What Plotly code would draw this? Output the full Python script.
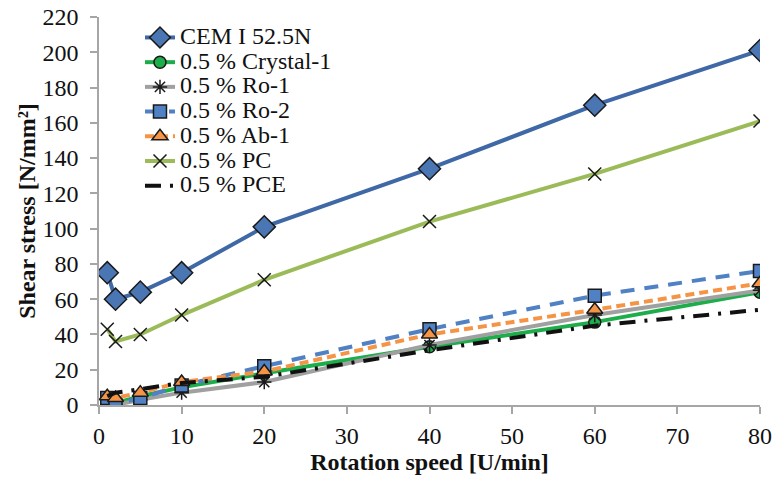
import plotly.graph_objects as go

speed = [1, 2, 5, 10, 20, 40, 60, 80]

cem = [75, 60, 64, 75, 101, 134, 170, 201]
crystal = [3, 1, 5, 10, 18, 33, 47, 64]
ro1 = [3, 0, 3, 7, 13, 34, 51, 65]
ro2 = [4, 0.5, 4, 11, 22, 43, 62, 76]
ab1 = [5, 4, 7, 13, 19, 40, 54, 69]
pc = [43, 36, 40, 51, 71, 104, 131, 161]
pce = [5, 7, 9, 12.5, 16, 31, 45, 54]

names = ["CEM I 52.5N", "0.5 % Crystal-1", "0.5 % Ro-1", "0.5 % Ro-2",
         "0.5 % Ab-1", "0.5 % PC", "0.5 % PCE"]

x_ticks = [0, 10, 20, 30, 40, 50, 60, 70, 80]
y_ticks = list(range(0, 221, 20))

FONT = "Times New Roman, Liberation Serif, serif"
TXT = 24
LEG = 24

fig = go.Figure()

def add(y, name, color, dash, symbol, mfill, msize, mline_color="#1a1a1a", mline_w=1.5):
    fig.add_trace(go.Scatter(
        x=speed, y=y,
        name='<span style="font-size:%dpx">%s</span>' % (LEG, name),
        mode="lines+markers" if symbol else "lines",
        line=dict(color=color, width=4, dash=dash),
        marker=dict(symbol=symbol or "circle", size=msize, color=mfill,
                    line=dict(color=mline_color, width=mline_w)),
    ))

add(cem, names[0], "#3F68A6", "solid", "diamond", "#4A77B4", 17)
add(crystal, names[1], "#1DAE4B", "solid", "circle", "#1DAE4B", 12)
add(ro1, names[2], "#A0A0A0", "solid", "asterisk-open", "#1a1a1a", 12, "#1a1a1a", 1.5)
add(ro2, names[3], "#4F81C4", "14px,10px", "square", "#4F81C4", 13)
add(ab1, names[4], "#F59445", "9px,5px", "triangle-up", "#F59445", 14)
add(pc, names[5], "#9BBB59", "solid", "x-thin-open", "#1a1a1a", 13, "#1a1a1a", 1.5)
add(pce, names[6], "#111111", "16px,9px,3px,9px", None, "#111111", 1)

axis_common = dict(
    showgrid=False, zeroline=False, showline=True, linecolor="#A6A6A6", linewidth=1.5,
    ticks="outside", ticklen=7, tickcolor="#A6A6A6", tickwidth=1.5, automargin=False,
    tickfont=dict(family=FONT, size=TXT, color="#111111"),
)

fig.update_layout(
    width=776, height=477,
    margin=dict(l=99, r=16, t=17, b=72),
    paper_bgcolor="white", plot_bgcolor="white",
    font=dict(family=FONT, size=TXT, color="#111111"),
    xaxis=dict(range=[0, 80], tickvals=x_ticks, ticklabelstandoff=1,
               title=dict(text="<b>Rotation speed [U/min]</b>", font=dict(family=FONT, size=TXT), standoff=4),
               **axis_common),
    yaxis=dict(range=[0, 220], tickvals=y_ticks, ticklabelstandoff=7,
               title=dict(text="<b>Shear stress [N/mm²]</b>", font=dict(family=FONT, size=TXT), standoff=0),
               **axis_common),
    legend=dict(x=0.062, y=0.992, xanchor="left", yanchor="top",
                bgcolor="rgba(0,0,0,0)", font=dict(family=FONT, size=16.7, color="#111111"),
                tracegroupgap=0, itemwidth=30),
    showlegend=True,
)

fig.write_html("out.html")
